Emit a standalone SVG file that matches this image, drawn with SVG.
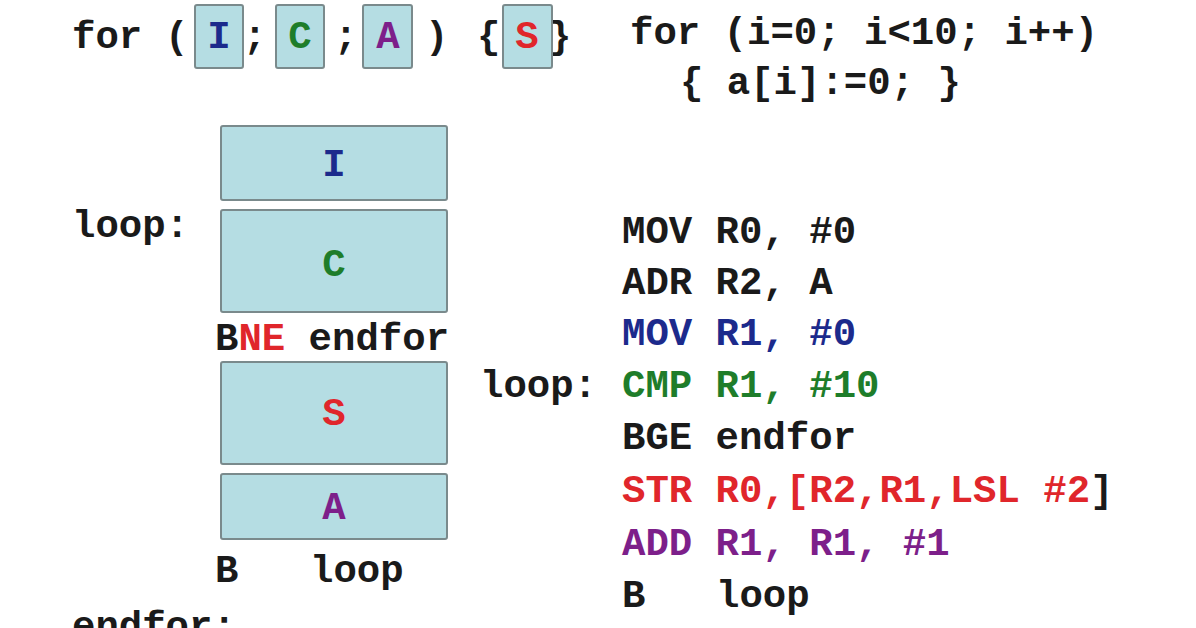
<svg xmlns="http://www.w3.org/2000/svg" width="1196" height="628" viewBox="0 0 1196 628">
<style>
text{font-family:"Liberation Mono","Courier New",monospace;font-weight:bold;font-size:39px;fill:#1a1a1a}
.box{fill:#b5dde3;stroke:#7a8a8c;stroke-width:2}
.c{text-anchor:middle}
.blue{fill:#1c2a8c}
.green{fill:#1e7d2a}
.purple{fill:#7d1f8a}
.red{fill:#e0262b}
</style>
<rect width="1196" height="628" fill="#ffffff"/>
<g id="top-for">
<text x="72" y="48">for</text>
<text x="165" y="48">(</text>
<text x="243" y="48">;</text>
<text x="334" y="48">;</text>
<text x="425" y="48">)</text>
<text x="477" y="48">{</text>
<text x="548" y="48">}</text>
</g>
<g id="top-I"><rect class="box" x="195" y="5" width="48" height="63" rx="2"/><text class="c blue" x="219" y="48">I</text></g>
<g id="top-C"><rect class="box" x="276" y="5" width="48" height="63" rx="2"/><text class="c green" x="300" y="48">C</text></g>
<g id="top-A"><rect class="box" x="363" y="5" width="49" height="63" rx="2"/><text class="c purple" x="388" y="48">A</text></g>
<g id="top-S"><rect class="box" x="503" y="5" width="49" height="63" rx="2"/><text class="c red" x="527" y="48">S</text></g>
<g id="c-code">
<text x="630" y="44">for (i=0; i&lt;10; i++)</text>
<text x="680" y="94">{ a[i]:=0; }</text>
</g>
<g id="left-labels">
<text x="72" y="237">loop:</text>
<text x="215" y="350">B<tspan class="red">NE</tspan> endfor</text>
<text x="215" y="582">B</text><text x="310" y="582">loop</text>
<text x="72" y="638">endfor:</text>
</g>
<g id="block-I"><rect class="box" x="221" y="126" width="226" height="74" rx="2"/><text class="c blue" x="334" y="176">I</text></g>
<g id="block-C"><rect class="box" x="221" y="210" width="226" height="102" rx="2"/><text class="c green" x="334" y="276">C</text></g>
<g id="block-S"><rect class="box" x="221" y="362" width="226" height="102" rx="2"/><text class="c red" x="334" y="425">S</text></g>
<g id="block-A"><rect class="box" x="221" y="474" width="226" height="65" rx="2"/><text class="c purple" x="334" y="519">A</text></g>
<g id="asm">
<text x="622" y="243">MOV R0, #0</text>
<text x="622" y="294">ADR R2, A</text>
<text class="blue" x="622" y="345">MOV R1, #0</text>
<text x="480" y="397">loop:</text>
<text class="green" x="622" y="397">CMP R1, #10</text>
<text x="622" y="449">BGE endfor</text>
<text x="622" y="502"><tspan class="red">STR R0,[R2,R1,LSL #2</tspan>]</text>
<text class="purple" x="622" y="555">ADD R1, R1, #1</text>
<text x="622" y="607">B</text><text x="716" y="607">loop</text>
</g>
</svg>
